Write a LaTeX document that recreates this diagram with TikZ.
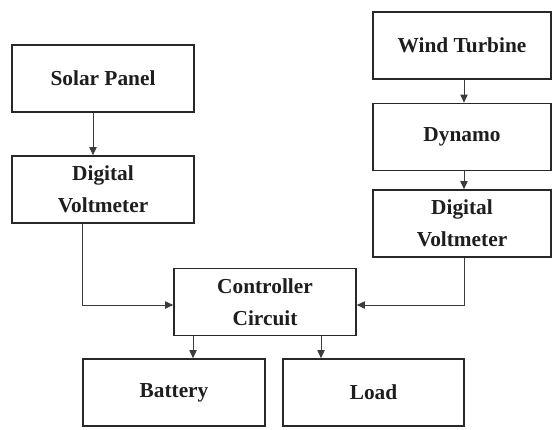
\documentclass[tikz,border=0pt]{standalone}
\usepackage{tikz}
\usepackage{fontspec}
\setmainfont{Liberation Serif}
\usetikzlibrary{arrows.meta,calc}

\tikzset{
  blk/.style={draw={rgb,255:red,40;green,40;blue,40},line width=1.3pt,minimum width=#1*0.75pt,minimum height=67*0.75pt,inner sep=0pt,align=center,font=\fontsize{16}{24}\selectfont\bfseries,text={rgb,255:red,30;green,30;blue,30}},
  blk/.default=182,
  conn/.style={draw={rgb,255:red,60;green,60;blue,60},line width=0.6pt},
  arr/.style={conn,-{Triangle[length=6pt,width=5.5pt]}}
}

\begin{document}
\begin{tikzpicture}[x=0.75pt,y=0.75pt,yscale=-1,xscale=1]
%set diagram: width 553, height 429
\fill[white] (0,0) rectangle (553,429);
\useasboundingbox (0,0) rectangle (553,429);

%Shape: Rectangle [solar side]
\node [blk] (solar) at (103,78.5) {Solar Panel};
\node [blk] (dvl) at (103,189.5) {Digital\\Voltmeter};
%Shape: Rectangle [wind side]
\node [blk=178] (wind) at (462,45.5) {Wind Turbine};
\node [blk=178] (dynamo) at (462,137) {Dynamo};
\node [blk=178] (dvr) at (462,223.5) {Digital\\Voltmeter};
%Shape: Rectangle [middle]
\node [blk] (ctrl) at (265,302) {Controller\\Circuit};
\node [blk] (battery) at (174,392.5) {Battery};
\node [blk=181] (load) at (373.5,392.5) {Load};

%Straight Lines [feet of the arrows]
\coordinate (s1) at ($(solar.south)+(-10,0)$);
\coordinate (w1) at ($(wind.south)+(2,0)$);
\coordinate (d1) at ($(dynamo.south)+(2,0)$);
\coordinate (l1) at ($(dvl.south)+(-21,0)$);
\coordinate (r1) at ($(dvr.south)+(2,0)$);
\coordinate (c1) at ($(ctrl.south)+(-72,0)$);
\coordinate (c2) at ($(ctrl.south)+(56,0)$);

\draw [arr] (s1) -- (s1 |- dvl.north);
\draw [arr] (w1) -- (w1 |- dynamo.north);
\draw [arr] (d1) -- (d1 |- dvr.north);
\draw [arr] (l1) |- ($(ctrl.west)+(0,3)$);
\draw [arr] (r1) |- ($(ctrl.east)+(0,3)$);
\draw [arr] (c1) -- (c1 |- battery.north);
\draw [arr] (c2) -- (c2 |- load.north);

\end{tikzpicture}
\end{document}
